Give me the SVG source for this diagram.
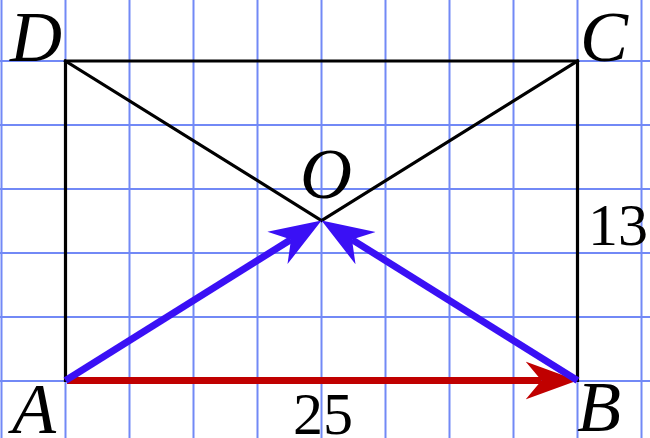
<svg xmlns="http://www.w3.org/2000/svg" width="650" height="438" viewBox="0 0 650 438">
<style>
.grid line{stroke:#7289f6;stroke-width:2}
.edge{stroke:#000;stroke-width:3.2;fill:none;stroke-linecap:square}
.blue{stroke:#3a10f5;stroke-width:7;fill:none}
.red{stroke:#c00000;stroke-width:7;fill:none}
.pt{font-family:"Liberation Serif",serif;font-style:italic;font-size:72px;fill:#000}
.num{font-family:"Liberation Serif",serif;font-size:60px;fill:#000}
</style>
<defs>
<marker id="ab" markerUnits="userSpaceOnUse" viewBox="0 -20 53 40" markerWidth="53" markerHeight="40" refX="16" refY="0" orient="auto">
<path d="M0,-19 L52,0 L0,19 L16,0 Z" fill="#3a10f5"/>
</marker>
<marker id="ar" markerUnits="userSpaceOnUse" viewBox="0 -20 53 40" markerWidth="53" markerHeight="40" refX="16" refY="0" orient="auto">
<path d="M0,-19 L52,0 L0,19 L16,0 Z" fill="#c00000"/>
</marker>
</defs>
<rect width="650" height="438" fill="#fff"/>
<g class="grid">
<line x1="1.5" y1="0" x2="1.5" y2="438"/>
<line x1="65.5" y1="0" x2="65.5" y2="438"/>
<line x1="129.5" y1="0" x2="129.5" y2="438"/>
<line x1="193.5" y1="0" x2="193.5" y2="438"/>
<line x1="257.5" y1="0" x2="257.5" y2="438"/>
<line x1="321.5" y1="0" x2="321.5" y2="438"/>
<line x1="385.5" y1="0" x2="385.5" y2="438"/>
<line x1="449.5" y1="0" x2="449.5" y2="438"/>
<line x1="513.5" y1="0" x2="513.5" y2="438"/>
<line x1="577.5" y1="0" x2="577.5" y2="438"/>
<line x1="641.5" y1="0" x2="641.5" y2="438"/>
<line x1="0" y1="61" x2="650" y2="61"/>
<line x1="0" y1="125" x2="650" y2="125"/>
<line x1="0" y1="189" x2="650" y2="189"/>
<line x1="0" y1="253" x2="650" y2="253"/>
<line x1="0" y1="317" x2="650" y2="317"/>
<line x1="0" y1="381" x2="650" y2="381"/>
</g>
<g id="connectors">
<path class="edge" d="M65.5,380.5 L65.5,61 L577.5,61 L577.5,380.5"/>
<path class="edge" d="M65.5,61 L321.5,220.5 L577.5,61"/>
<line class="red" x1="67" y1="380.5" x2="541.5" y2="380.5" marker-end="url(#ar)"/>
<line class="blue" x1="65.5" y1="380.5" x2="291" y2="239.5" marker-end="url(#ab)"/>
<line class="blue" x1="577.5" y1="380.5" x2="352" y2="239.6" marker-end="url(#ab)"/>
</g>
<g id="A"><text class="pt" x="12" y="433">A</text></g>
<g id="B"><text class="pt" x="577" y="431">B</text></g>
<g id="C"><text class="pt" x="580" y="61">C</text></g>
<g id="D"><text class="pt" x="10" y="61">D</text></g>
<g id="O"><text class="pt" x="300" y="198">O</text></g>
<g id="label-13"><text class="num" x="588" y="245">13</text></g>
<g id="label-25"><text class="num" x="323" y="434" text-anchor="middle">25</text></g>
</svg>
